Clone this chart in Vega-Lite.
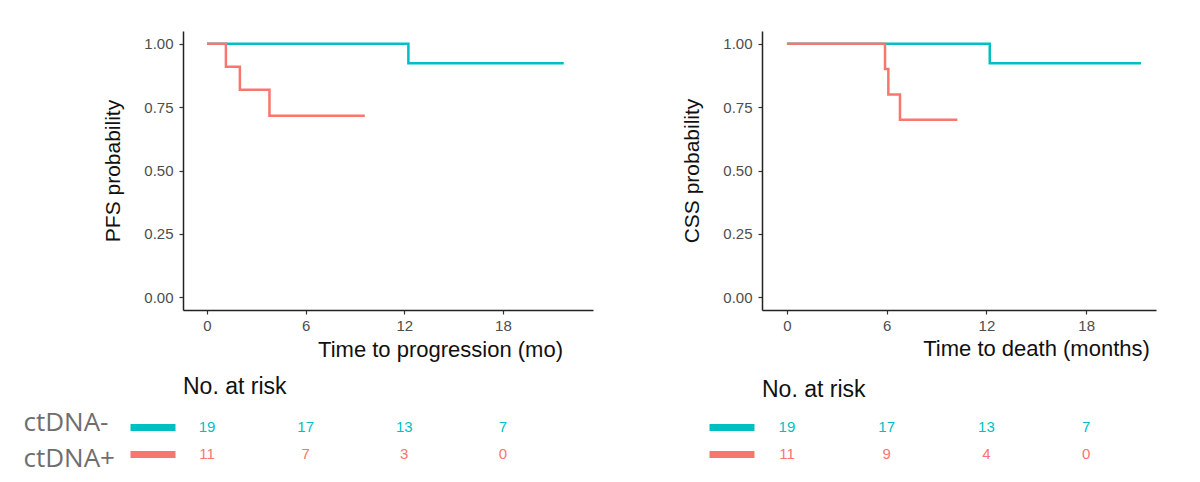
{
  "$schema": "https://vega.github.io/schema/vega-lite/v6.json",
  "background": "white",
  "padding": {"left": 23, "top": 31, "right": 5, "bottom": 5},
  "config": {
    "view": {"stroke": null},
    "axis": {
      "grid": false,
      "domainColor": "#222222",
      "domainWidth": 1.5,
      "tickColor": "#333333",
      "tickWidth": 1.2,
      "tickSize": 4,
      "labelFont": "Liberation Sans",
      "labelFontSize": 15,
      "labelColor": "#4d4d4d",
      "titleFont": "Liberation Sans",
      "titleFontSize": 22,
      "titleFontWeight": "normal",
      "titleColor": "#111111"
    },
    "title": {"font": "Liberation Sans", "fontSize": 23, "fontWeight": "normal", "color": "#111111", "anchor": "start", "frame": "group"}
  },
  "datasets": {
    "km": [
      {"panel": "PFS", "group": "ctDNA-", "time": 0, "surv": 1},
      {"panel": "PFS", "group": "ctDNA-", "time": 12.25, "surv": 0.923},
      {"panel": "PFS", "group": "ctDNA-", "time": 21.7, "surv": 0.923},
      {"panel": "PFS", "group": "ctDNA+", "time": 0, "surv": 1},
      {"panel": "PFS", "group": "ctDNA+", "time": 1.15, "surv": 0.909},
      {"panel": "PFS", "group": "ctDNA+", "time": 2.0, "surv": 0.818},
      {"panel": "PFS", "group": "ctDNA+", "time": 3.8, "surv": 0.716},
      {"panel": "PFS", "group": "ctDNA+", "time": 9.6, "surv": 0.716},
      {"panel": "CSS", "group": "ctDNA-", "time": 0, "surv": 1},
      {"panel": "CSS", "group": "ctDNA-", "time": 12.2, "surv": 0.923},
      {"panel": "CSS", "group": "ctDNA-", "time": 21.3, "surv": 0.923},
      {"panel": "CSS", "group": "ctDNA+", "time": 0, "surv": 1},
      {"panel": "CSS", "group": "ctDNA+", "time": 5.9, "surv": 0.9},
      {"panel": "CSS", "group": "ctDNA+", "time": 6.1, "surv": 0.8},
      {"panel": "CSS", "group": "ctDNA+", "time": 6.8, "surv": 0.7},
      {"panel": "CSS", "group": "ctDNA+", "time": 10.25, "surv": 0.7}
    ],
    "risk": [
      {"panel": "PFS", "group": "ctDNA-", "time": 0, "n": 19},
      {"panel": "PFS", "group": "ctDNA-", "time": 6, "n": 17},
      {"panel": "PFS", "group": "ctDNA-", "time": 12, "n": 13},
      {"panel": "PFS", "group": "ctDNA-", "time": 18, "n": 7},
      {"panel": "PFS", "group": "ctDNA+", "time": 0, "n": 11},
      {"panel": "PFS", "group": "ctDNA+", "time": 6, "n": 7},
      {"panel": "PFS", "group": "ctDNA+", "time": 12, "n": 3},
      {"panel": "PFS", "group": "ctDNA+", "time": 18, "n": 0},
      {"panel": "CSS", "group": "ctDNA-", "time": 0, "n": 19},
      {"panel": "CSS", "group": "ctDNA-", "time": 6, "n": 17},
      {"panel": "CSS", "group": "ctDNA-", "time": 12, "n": 13},
      {"panel": "CSS", "group": "ctDNA-", "time": 18, "n": 7},
      {"panel": "CSS", "group": "ctDNA+", "time": 0, "n": 11},
      {"panel": "CSS", "group": "ctDNA+", "time": 6, "n": 9},
      {"panel": "CSS", "group": "ctDNA+", "time": 12, "n": 4},
      {"panel": "CSS", "group": "ctDNA+", "time": 18, "n": 0}
    ]
  },
  "bounds": "flush",
  "columns": 2,
  "spacing": {"row": 103, "column": 169},
  "concat": [
    {
      "width": 410,
      "height": 279,
      "data": {"name": "km"},
      "transform": [{"filter": "datum.panel === 'PFS'"}],
      "mark": {"type": "line", "interpolate": "step-after", "strokeWidth": 2.5},
      "encoding": {
        "x": {"field": "time", "type": "quantitative", "scale": {"domain": [-1.46, 23.48], "nice": false, "zero": false},
              "axis": {"values": [0, 6, 12, 18], "title": "Time to progression (mo)", "labelPadding": 4, "titleX": 257, "titleY": 46, "titleBaseline": "alphabetic", "titleAlign": "center"}},
        "y": {"field": "surv", "type": "quantitative", "scale": {"domain": [-0.05, 1.05], "nice": false, "zero": false},
              "axis": {"values": [0, 0.25, 0.5, 0.75, 1], "format": ".2f", "title": "PFS probability", "titleFontSize": 21, "labelPadding": 6, "titlePadding": 20}},
        "color": {"field": "group", "type": "nominal", "scale": {"domain": ["ctDNA-", "ctDNA+"], "range": ["#00BFC4", "#F8766D"]}, "legend": null}
      }
    },
    {
      "width": 394,
      "height": 279,
      "data": {"name": "km"},
      "transform": [{"filter": "datum.panel === 'CSS'"}],
      "mark": {"type": "line", "interpolate": "step-after", "strokeWidth": 2.5},
      "encoding": {
        "x": {"field": "time", "type": "quantitative", "scale": {"domain": [-1.5, 22.2], "nice": false, "zero": false},
              "axis": {"values": [0, 6, 12, 18], "title": "Time to death (months)", "labelPadding": 4, "titleX": 274, "titleY": 45, "titleBaseline": "alphabetic", "titleAlign": "center"}},
        "y": {"field": "surv", "type": "quantitative", "scale": {"domain": [-0.05, 1.05], "nice": false, "zero": false},
              "axis": {"values": [0, 0.25, 0.5, 0.75, 1], "format": ".2f", "title": "CSS probability", "titleFontSize": 21, "labelPadding": 6, "titlePadding": 20}},
        "color": {"field": "group", "type": "nominal", "scale": {"domain": ["ctDNA-", "ctDNA+"], "range": ["#00BFC4", "#F8766D"]}, "legend": null}
      }
    },
    {
      "width": 410,
      "height": 54,
      "title": {"text": "No. at risk", "baseline": "alphabetic", "offset": -7},
      "data": {"name": "risk"},
      "transform": [{"filter": "datum.panel === 'PFS'"}],
      "mark": {"type": "text", "font": "Liberation Sans", "fontSize": 15, "baseline": "middle", "align": "center"},
      "encoding": {
        "x": {"field": "time", "type": "quantitative", "scale": {"domain": [-1.46, 23.48], "nice": false, "zero": false}, "axis": null},
        "y": {"field": "group", "type": "nominal", "scale": {"type": "point", "domain": ["ctDNA-", "ctDNA+"], "padding": 0.5},
              "axis": {"title": null, "domain": false, "offset": 8, "tickSize": 45, "tickWidth": 7,
                       "tickColor": {"condition": {"test": "datum.value === 'ctDNA-'", "value": "#00BFC4"}, "value": "#F8766D"},
                       "labelAlign": "left", "labelPadding": 107, "labelFont": "Open Sans", "labelFontSize": 26, "labelColor": "#6e6e6e",
                       "labelOffset": {"condition": {"test": "datum.value === 'ctDNA-'", "value": -4}, "value": 5}}},
        "text": {"field": "n", "type": "quantitative"},
        "color": {"field": "group", "type": "nominal", "scale": {"domain": ["ctDNA-", "ctDNA+"], "range": ["#00BFC4", "#F8766D"]}, "legend": null}
      }
    },
    {
      "width": 394,
      "height": 54,
      "title": {"text": "No. at risk", "baseline": "alphabetic", "offset": -7},
      "data": {"name": "risk"},
      "transform": [{"filter": "datum.panel === 'CSS'"}],
      "mark": {"type": "text", "font": "Liberation Sans", "fontSize": 15, "baseline": "middle", "align": "center"},
      "encoding": {
        "x": {"field": "time", "type": "quantitative", "scale": {"domain": [-1.5, 22.2], "nice": false, "zero": false}, "axis": null},
        "y": {"field": "group", "type": "nominal", "scale": {"type": "point", "domain": ["ctDNA-", "ctDNA+"], "padding": 0.5},
              "axis": {"title": null, "domain": false, "offset": 8, "tickSize": 45, "tickWidth": 7, "labels": false,
                       "tickColor": {"condition": {"test": "datum.value === 'ctDNA-'", "value": "#00BFC4"}, "value": "#F8766D"}}},
        "text": {"field": "n", "type": "quantitative"},
        "color": {"field": "group", "type": "nominal", "scale": {"domain": ["ctDNA-", "ctDNA+"], "range": ["#00BFC4", "#F8766D"]}, "legend": null}
      }
    }
  ]
}
